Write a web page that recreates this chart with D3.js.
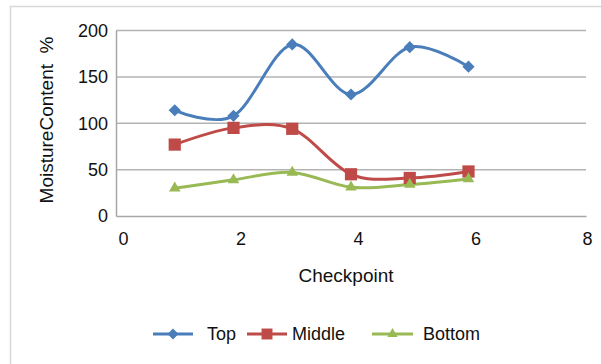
<!DOCTYPE html>
<html>
<head>
<meta charset="utf-8">
<script src="https://cdn.jsdelivr.net/npm/d3@7/dist/d3.min.js"></script>
<style>
  html, body { margin: 0; padding: 0; background: #fff; }
  svg { display: block; }
  text { font-family: "Liberation Sans", Arial, sans-serif; fill: #111; }
</style>
</head>
<body>
<script>
// Moisture content readings at each checkpoint, per layer
const checkpoints = [1, 2, 3, 4, 5, 6];
const topValues = [114, 108, 185, 131, 182, 161];
const middleValues = [77, 95, 94, 45, 41, 48];
const bottomValues = [30, 39, 47, 31, 34, 40];
const seriesNames = ["Top", "Middle", "Bottom"];
const xTicks = [0, 2, 4, 6, 8];
const yTicks = [0, 50, 100, 150, 200];

const W = 601, H = 364;
const plot = { left: 116, right: 586, top: 30.5, bottom: 216 };

const colors = { Top: "#4a7ebb", Middle: "#be4b48", Bottom: "#98b954" };
const symbols = { Top: d3.symbolDiamond2, Middle: d3.symbolSquare2, Bottom: d3.symbolTriangle2 };
const symbolSizes = { Top: 95, Middle: 190, Bottom: 95 };

const series = [
  { name: "Top", values: topValues },
  { name: "Middle", values: middleValues },
  { name: "Bottom", values: bottomValues }
];

const svg = d3.select("body").append("svg").attr("width", W).attr("height", H);

// chart frame
svg.append("rect")
  .attr("x", 10.5).attr("y", 6.5).attr("width", 700).attr("height", 400)
  .attr("fill", "none").attr("stroke", "#d9d9d9").attr("stroke-width", 1.5);

const x = d3.scaleLinear().domain([0, 8]).range([plot.left, plot.right]);
const y = d3.scaleLinear().domain([0, 200]).range([plot.bottom, plot.top]);

// horizontal gridlines
svg.append("g")
  .selectAll("line")
  .data(yTicks.filter(d => d > 0))
  .join("line")
  .attr("x1", plot.left).attr("x2", plot.right)
  .attr("y1", d => y(d)).attr("y2", d => y(d))
  .attr("stroke", "#b3b3b3").attr("stroke-width", 1.5);

// y axis
const yAxis = svg.append("g")
  .attr("transform", `translate(${plot.left},0)`)
  .call(d3.axisLeft(y).tickValues(yTicks).tickSize(0).tickPadding(8));
yAxis.select(".domain").attr("stroke", "#a6a6a6").attr("stroke-width", 1.5);
yAxis.selectAll("text").style("font-size", "18px").attr("fill", "#111");

// x axis
const xAxis = svg.append("g")
  .attr("transform", `translate(0,${plot.bottom})`)
  .call(d3.axisBottom(x).tickValues(xTicks).tickSize(0).tickPadding(16));
xAxis.select(".domain").attr("stroke", "#a6a6a6").attr("stroke-width", 1.5);
xAxis.selectAll("text").style("font-size", "18px").attr("fill", "#111")
  .attr("dx", d => d === 8 ? 1 : 7);

// axis titles
svg.append("text")
  .attr("x", 346).attr("y", 282)
  .attr("text-anchor", "middle").style("font-size", "19px")
  .text("Checkpoint");

svg.append("text")
  .attr("transform", "translate(53,120) rotate(-90)")
  .attr("text-anchor", "middle").style("font-size", "19px")
  .text("MoistureContent\u00a0\u00a0%");

// smoothed series lines with markers
const line = d3.line()
  .x((d, i) => x(checkpoints[i]))
  .y(d => y(d))
  .curve(d3.curveCatmullRom.alpha(0));

const seriesG = svg.append("g");
series.forEach(s => {
  seriesG.append("path")
    .datum(s.values)
    .attr("d", line)
    .attr("fill", "none")
    .attr("stroke", colors[s.name])
    .attr("stroke-width", 3)
    .attr("stroke-linejoin", "round");
});
series.forEach(s => {
  seriesG.append("g")
    .selectAll("path")
    .data(s.values)
    .join("path")
    .attr("transform", (d, i) => `translate(${x(checkpoints[i])},${y(d)})`)
    .attr("d", d3.symbol().type(symbols[s.name]).size(symbolSizes[s.name]))
    .attr("fill", colors[s.name]);
});

// legend
const legendItems = [
  { name: seriesNames[0], x0: 153, x1: 193, tx: 207 },
  { name: seriesNames[1], x0: 247, x1: 287, tx: 292 },
  { name: seriesNames[2], x0: 372, x1: 413, tx: 423 }
];
const ly = 334;
const legend = svg.append("g");
legendItems.forEach(it => {
  legend.append("line")
    .attr("x1", it.x0).attr("x2", it.x1).attr("y1", ly).attr("y2", ly)
    .attr("stroke", colors[it.name]).attr("stroke-width", 3);
  legend.append("path")
    .attr("transform", `translate(${(it.x0 + it.x1) / 2},${ly})`)
    .attr("d", d3.symbol().type(symbols[it.name]).size(symbolSizes[it.name] * 0.8))
    .attr("fill", colors[it.name]);
  legend.append("text")
    .attr("x", it.tx).attr("y", ly).attr("dy", "0.35em")
    .style("font-size", "18px")
    .text(it.name);
});
</script>
</body>
</html>
